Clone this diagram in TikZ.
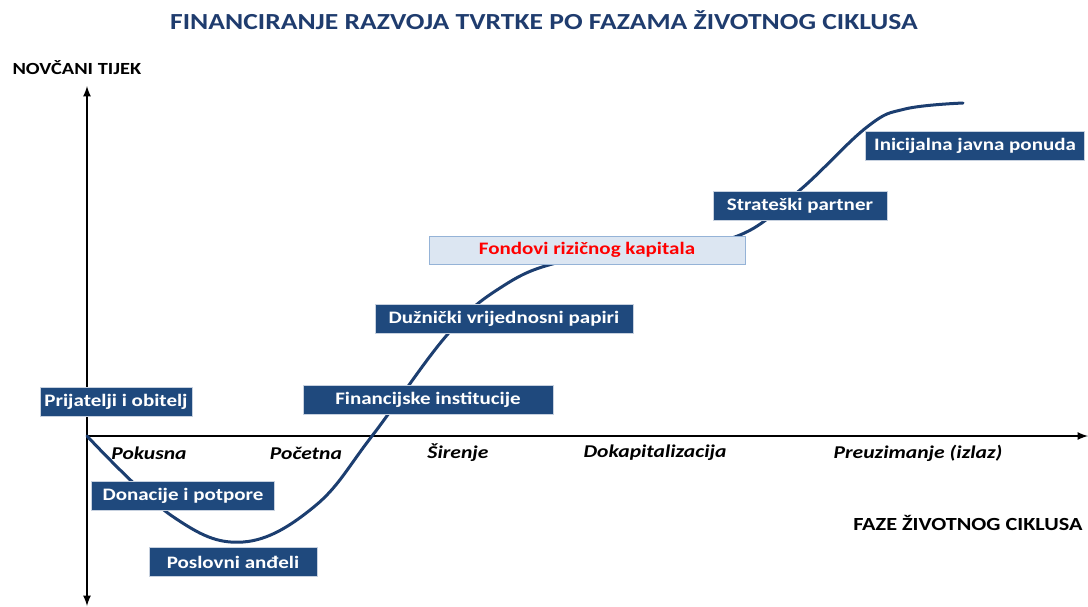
\documentclass[tikz,border=0pt]{standalone}
\usepackage{fontspec}
\setmainfont{Carlito}[FakeStretch=1.2]
\usetikzlibrary{arrows}
\definecolor{tamnoplava}{RGB}{31,73,125}
\definecolor{naslovplava}{RGB}{31,60,110}
\definecolor{svijetloplava}{RGB}{220,230,242}
\definecolor{rubplava}{RGB}{149,179,215}
\definecolor{krivulja}{RGB}{28,62,112}

\begin{document}
\begin{tikzpicture}[>=latex,x=1pt,y=-1pt]
\tikzset{
	izvor/.style={draw=white!75!tamnoplava,line width=1pt,fill=tamnoplava,text=white,
		font=\bfseries\fontsize{17.5}{17.5}\selectfont,minimum height=29pt,inner sep=0pt},
	fase/.style={font=\bfseries\itshape\fontsize{18}{18}\selectfont},
	os/.style={line width=2.5pt,->},
	naslov/.style={font=\bfseries\fontsize{17}{17}\selectfont}
}
\useasboundingbox (0,0) rectangle (1088,606);
% osi
\coordinate(o) at (87,436);
\coordinate(ygore) at (87,86);
\coordinate(ydolje) at (87,606);
\coordinate(xdesno) at (1088,436);
\draw[os] (o) -- (ygore);
\draw[os] (o) -- (ydolje);
\draw[os] (o) -- (xdesno);
% krivulja
\draw[krivulja,line width=3pt,line cap=round] plot[smooth,tension=0.65] coordinates {
	(87,436) (172,516) (243,542) (315,506) (372,436) (447,335) (500,288)
	(560,262) (660,248) (740,235) (800,190) (867,127) (905,109) (963,103)};
% naslovi
\node(naslov)[naslov,text=naslovplava,font=\bfseries\fontsize{23}{23}\selectfont] at (544,20)
	{FINANCIRANJE RAZVOJA TVRTKE PO FAZAMA ŽIVOTNOG CIKLUSA};
\node(ylab)[naslov,anchor=west] at (9,68) {NOVČANI TIJEK};
\node(xlab)[naslov,font=\bfseries\fontsize{18.5}{18.5}\selectfont,anchor=east] at (1086,523)
	{FAZE ŽIVOTNOG CIKLUSA};
% faze
\node(pok)[fase] at (149,453) {Pokusna};
\node(poc)[fase] at (306,453) {Početna};
\node(sir)[fase] at (458,453) {Širenje};
\node(dok)[fase] at (655,453) {Dokapitalizacija};
\node(pre)[fase] at (918,453) {Preuzimanje (izlaz)};
% izvori financiranja
\node(pio)[izvor,minimum width=152pt] at (116,402) {Prijatelji i obitelj};
\node(dip)[izvor,minimum width=183pt] at (183,496) {Donacije i potpore};
\node(pan)[izvor,minimum width=168pt] at (233,562) {Poslovni anđeli};
\node(fin)[izvor,minimum width=250pt] at (428,400) {Financijske institucije};
\node(dvp)[izvor,minimum width=258pt] at (504,319) {Dužnički vrijednosni papiri};
\node(frk)[izvor,minimum width=316pt,minimum height=28pt,fill=svijetloplava,
	draw=rubplava,text=red] at (587,250) {Fondovi rizičnog kapitala};
\node(stp)[izvor,minimum width=174pt] at (800,206) {Strateški partner};
\node(ijp)[izvor,minimum width=219pt] at (975,146) {Inicijalna javna ponuda};
\end{tikzpicture}
\end{document}
